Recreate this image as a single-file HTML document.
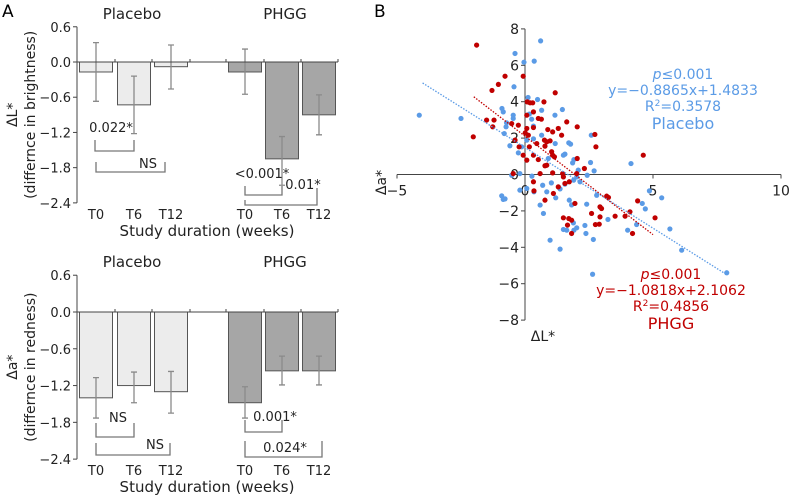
<!DOCTYPE html>
<html><head><meta charset="utf-8">
<style>
html,body{margin:0;padding:0;background:#fff;}
svg{display:block;font-family:"DejaVu Sans","Liberation Sans",sans-serif;}
</style></head>
<body>
<svg id="fig" width="791" height="501" viewBox="0 0 791 501" xmlns="http://www.w3.org/2000/svg">
<text x="2" y="17" font-size="17">A</text>
<text x="374" y="17" font-size="17">B</text>
<g id="topChart"></g>
<g id="botChart"></g>
<g id="scatter"></g>
</svg>
<script>
// ---- Panel A data ----
const timepoints = ["T0","T6","T12"];
const groups = ["Placebo","PHGG"];
const brightnessPlacebo = [-0.17, -0.73, -0.08];
const brightnessPlaceboHi = [0.33, -0.24, 0.29];
const brightnessPlaceboLo = [-0.67, -1.22, -0.46];
const brightnessPHGG = [-0.17, -1.65, -0.90];
const brightnessPHGGHi = [0.22, -1.27, -0.56];
const brightnessPHGGLo = [-0.55, -2.10, -1.24];
const rednessPlacebo = [-1.40, -1.20, -1.30];
const rednessPlaceboHi = [-1.07, -0.98, -0.97];
const rednessPlaceboLo = [-1.73, -1.48, -1.65];
const rednessPHGG = [-1.48, -0.96, -0.96];
const rednessPHGGHi = [-1.22, -0.72, -0.72];
const rednessPHGGLo = [-1.73, -1.19, -1.19];
const yTicksA = [0.6, 0.0, -0.6, -1.2, -1.8, -2.4];
const yTickLabelsA = ["0.6","0.0","\u22120.6","\u22121.2","\u22121.8","\u22122.4"];

// ---- Panel B data ----
const placeboX = [-4.13,-2.5,0.61,-0.39,-0.04,0.36,-0.43,0.12,0.49,-0.9,-0.85,-0.74,-0.72,-0.46,-0.46,-0.81,-0.59,0.26,0.17,0.33,0.65,1.17,1.46,0.07,0.33,0.65,0.91,1.18,1.71,1.78,1.56,1.5,1.91,1.86,2.59,2.56,2.43,0.27,0.07,0.35,0.69,0.85,1.03,1.2,1.37,1.56,1.9,2.02,2.08,0.59,0.72,-0.2,-0.91,-0.85,-0.78,0.98,1.37,1.5,1.63,1.73,1.82,1.89,1.91,2.02,2.41,2.34,2.38,2.67,2.64,2.8,3.24,4.14,4.01,4.36,4.58,4.7,4.86,5.34,5.66,6.12,7.88,2.7,2.15,-0.2,-0.52,-0.13,-0.26];
const placeboY = [3.26,3.08,7.34,6.65,6.17,6.23,4.82,4.23,4.12,3.63,3.44,2.62,2.84,3.26,3.08,2.25,1.58,3.04,3.32,2.66,3.53,3.26,3.57,1.89,1.96,2.16,0.88,1.7,1.74,1.67,1.12,1.06,0.82,0.64,2.16,0.66,-0.04,-0.09,-0.77,-0.95,-0.59,-0.95,-0.46,-1.28,-0.79,-0.53,-0.31,-0.13,0.24,-1.68,-2.14,-0.86,-1.17,-1.37,-1.34,-3.61,-4.1,-3.02,-3.06,-1.41,-1.67,-2.66,-3.06,-2.93,-1.63,-2.8,-3.24,-3.57,-5.48,-1.14,-2.47,0.6,-3.06,-2.75,-1.59,-1.89,-0.9,-1.28,-2.99,-4.16,-5.4,0.2,-0.4,0.05,-0.04,1.52,1.19];
const phggX = [-1.89,-2.02,-1.5,-1.29,-1.04,-0.78,-0.07,-1.21,-1.26,-0.52,-0.26,-0.39,-0.23,-0.07,-0.46,0.09,0.2,0.3,0.74,1.18,0.07,0.33,0.52,0.64,0.07,0.01,0.13,0.33,0.89,1.08,1.3,1.63,2.04,1.43,0.76,0.85,0.98,0.78,0.46,0.17,0.07,0.33,0.52,1.04,1.08,1.15,0.78,0.85,0.59,1.08,1.47,1.5,1.56,1.73,2.02,2.04,2.32,2.73,2.77,0.33,0.35,0.78,1.11,1.3,1.5,1.71,1.82,1.66,1.82,1.95,2.6,2.75,2.9,2.93,2.99,2.93,3.19,3.26,3.52,3.91,4.1,4.2,4.4,4.62,5.08];
const phggY = [7.11,2.07,2.99,4.62,4.95,5.4,5.4,2.99,2.62,2.8,2.71,1.89,1.52,1.06,0.05,3.99,3.94,3.94,3.99,4.49,3.26,3.44,3.08,3.04,2.53,2.29,2.16,2.58,2.47,2.34,2.53,2.89,2.62,2.16,1.89,1.8,1.85,1.56,1.7,1.52,0.79,1.06,0.82,1.25,1.06,0.97,0.48,0.51,0.05,0.09,0.05,-0.13,-0.49,-0.4,0.05,0.88,0.33,2.2,1.52,-0.4,-0.9,-1.41,-1.04,-0.68,-2.38,-2.42,-2.51,-2.78,-3.24,-1.59,-2.14,-2.75,-2.73,-2.33,-1.87,-1.78,-1.19,-1.26,-2.29,-2.29,-2.05,-3.24,-1.45,1.06,-2.38];
const placeboFit = [-0.8865, 1.4833];
const placeboFitRange = [-4.0, 7.9];
const phggFit = [-1.0818, 2.1062];
const phggFitRange = [-2.0, 5.0];
const xTicksB = [-5, 0, 5, 10];
const yTicksB = [8, 6, 4, 2, 0, -2, -4, -6, -8];

const NS = "http://www.w3.org/2000/svg";
function mk(parent, tag, attrs, text){
  const e = document.createElementNS(NS, tag);
  for (const k in attrs) e.setAttribute(k, attrs[k]);
  if (text !== undefined) e.textContent = text;
  parent.appendChild(e);
  return e;
}
const barCenters = [[96,134,171],[245,282,319]];
const BW = 33;

function barChart(g, zeroY, scale, data, yTitle1, yTitle2, brackets){
  const Y = v => zeroY - v*scale;
  // y axis
  const ax = mk(g,'line',{x1:77,y1:Y(0.6),x2:77,y2:Y(-2.4),stroke:'#444','stroke-width':1});
  
  
  yTicksA.forEach((t,i)=>{
    const tk = mk(g,'line',{x1:73,y1:Y(t),x2:77,y2:Y(t),stroke:'#444'});
    
    
    const tl = mk(g,'text',{x:71,y:Y(t)+5,'font-size':13,'text-anchor':'end',fill:'#222'},yTickLabelsA[i]);
    
    
  });
  const yt = mk(g,'text',{transform:`translate(17,${Y(-0.9)}) rotate(-90)`,'font-size':14,'text-anchor':'middle',fill:'#222'},yTitle1);
  
  
  const yt2 = mk(g,'text',{transform:`translate(35,${Y(-0.9)}) rotate(-90)`,'font-size':14,'text-anchor':'middle',fill:'#222'},yTitle2);
  
  
  // bars
  const fills = ['#ececec','#a6a6a6'];
  groups.forEach((grp,gi)=>{
    const title = mk(g,'text',{x:gi?285:132,y:Y(0.6)-8,'font-size':15,'text-anchor':'middle',fill:'#222'},grp);
    
    
    const d = data[gi];
    timepoints.forEach((tp,i)=>{
      const cx = barCenters[gi][i];
      const v = d[0][i];
      const r = mk(g,'rect',{x:cx-BW/2,y:Y(0),width:BW,height:Y(v)-Y(0),fill:fills[gi],stroke:'#555','stroke-width':1});
      
      
      const e = mk(g,'path',{d:`M${cx},${Y(d[1][i])}V${Y(d[2][i])}M${cx-3},${Y(d[1][i])}h6M${cx-3},${Y(d[2][i])}h6`,stroke:'#8a8a8a','stroke-width':1.3,fill:'none'});
      
      
      const xl = mk(g,'text',{x:cx,y:Y(-2.4)+16,'font-size':13,'text-anchor':'middle',fill:'#222'},tp);
      
      
    });
  });
  const zl = mk(g,'line',{x1:77,y1:Y(0),x2:338,y2:Y(0),stroke:'#444'});
  
  
  [115,152,190,226,264,301,338].forEach(x=>{
    const t = mk(g,'line',{x1:x,y1:Y(0),x2:x,y2:Y(0)-3,stroke:'#444'});
    
    
  });
  const xt = mk(g,'text',{x:207,y:Y(-2.4)+33,'font-size':15,'text-anchor':'middle',fill:'#222'},'Study duration (weeks)');
  
  
  brackets.forEach(b=>{
    const p = mk(g,'path',{d:`M${b[0]},${b[2]}V${b[4]}H${b[1]}V${b[3]}`,stroke:'#777','stroke-width':1.3,fill:'none'});
    
    
    const t = mk(g,'text',{x:b[6],y:b[7],'font-size':13,'text-anchor':'middle',fill:'#222'},b[5]);
    
    
  });
}

barChart(document.getElementById('topChart'),62,58.7,
  [[brightnessPlacebo,brightnessPlaceboHi,brightnessPlaceboLo],[brightnessPHGG,brightnessPHGGHi,brightnessPHGGLo]],
  '\u0394L*','(differnce in brightness)',
  [[95,134,140,140,151,'0.022*',111,132],[96,165,162,162,172,'NS',148,168],
   [245,282,186,186,195,'<0.001*',262,178],[245,317,200,188,205,'0.01*',303,189]]);

barChart(document.getElementById('botChart'),312,61.3,
  [[rednessPlacebo,rednessPlaceboHi,rednessPlaceboLo],[rednessPHGG,rednessPHGGHi,rednessPHGGLo]],
  '\u0394a*','(differnce in redness)',
  [[96,134,423,423,437,'NS',118,422],[96,170,443,443,455,'NS',155,449],
   [245,282,420,420,432,'0.001*',275,421],[245,322,441,441,457,'0.024*',285,452]]);

// ---- Scatter ----
(function(){
  const g = document.getElementById('scatter');
  const X = v => 525 + v*25.6;
  const Y = v => 174.5 - v*18.2;
  const ya = mk(g,'line',{x1:X(0),y1:Y(8),x2:X(0),y2:Y(-8),stroke:'#444'});
  
  
  const xa = mk(g,'line',{x1:X(-5),y1:Y(0),x2:X(10),y2:Y(0),stroke:'#444'});
  
  
  yTicksB.forEach(t=>{
    const tk = mk(g,'line',{x1:X(0)-4,y1:Y(t),x2:X(0),y2:Y(t),stroke:'#444'});
    
    
    const tl = mk(g,'text',{x:X(0)-6,y:Y(t)+5,'font-size':14,'text-anchor':'end',fill:'#222'},t<0?'\u2212'+Math.abs(t):String(t));
    
    
  });
  xTicksB.forEach(t=>{
    const tk = mk(g,'line',{x1:X(t),y1:Y(0),x2:X(t),y2:Y(0)+4,stroke:'#444'});
    
    
    const tl = mk(g,'text',{x:X(t),y:Y(0)+21,'font-size':14,'text-anchor':'middle',fill:'#222'},t<0?'\u2212'+Math.abs(t):String(t));
    
    
  });
  const yt = mk(g,'text',{transform:`translate(386,${Y(0)+8}) rotate(-90)`,'font-size':14,'text-anchor':'middle',fill:'#222'},'\u0394a*');
  
  
  const xt = mk(g,'text',{x:543,y:341,'font-size':14,'text-anchor':'middle',fill:'#222'},'\u0394L*');
  
  
  placeboX.forEach((x,i)=>{
    const c = mk(g,'circle',{cx:X(x),cy:Y(placeboY[i]),r:2.6,fill:'#5b9be6'});
    
    
  });
  phggX.forEach((x,i)=>{
    const c = mk(g,'circle',{cx:X(x),cy:Y(phggY[i]),r:2.6,fill:'#c00000'});
    
    
  });
  const f = (fit,x)=>fit[0]*x+fit[1];
  const bl = mk(g,'line',{x1:X(placeboFitRange[0]),y1:Y(f(placeboFit,placeboFitRange[0])),x2:X(placeboFitRange[1]),y2:Y(f(placeboFit,placeboFitRange[1])),stroke:'#5b9be6','stroke-width':1.3,'stroke-dasharray':'1.5,1.5'});
  
  
  const rl = mk(g,'line',{x1:X(phggFitRange[0]),y1:Y(f(phggFit,phggFitRange[0])),x2:X(phggFitRange[1]),y2:Y(f(phggFit,phggFitRange[1])),stroke:'#c00000','stroke-width':1.3,'stroke-dasharray':'1.5,1.5'});
  
  
  const blue = [['<tspan font-style="italic">p</tspan>\u22640.001',79],['y=\u22120.8865x+1.4833',95],['R<tspan font-size="9" dy="-5">2</tspan><tspan dy="5">=0.3578</tspan>',111],['Placebo',129]];
  blue.forEach(b=>{
    const t = mk(g,'text',{x:683,y:b[1],'font-size':b[0]==='Placebo'?16:14,'text-anchor':'middle',fill:'#5b9be6'});
    t.innerHTML = b[0];
    
    
  });
  const red = [['<tspan font-style="italic">p</tspan>\u22640.001',279],['y=\u22121.0818x+2.1062',295],['R<tspan font-size="9" dy="-5">2</tspan><tspan dy="5">=0.4856</tspan>',311],['PHGG',329]];
  red.forEach(b=>{
    const t = mk(g,'text',{x:671,y:b[1],'font-size':b[0]==='PHGG'?16:14,'text-anchor':'middle',fill:'#c00000'});
    t.innerHTML = b[0];
    
    
  });
})();
</script>
</body></html>
